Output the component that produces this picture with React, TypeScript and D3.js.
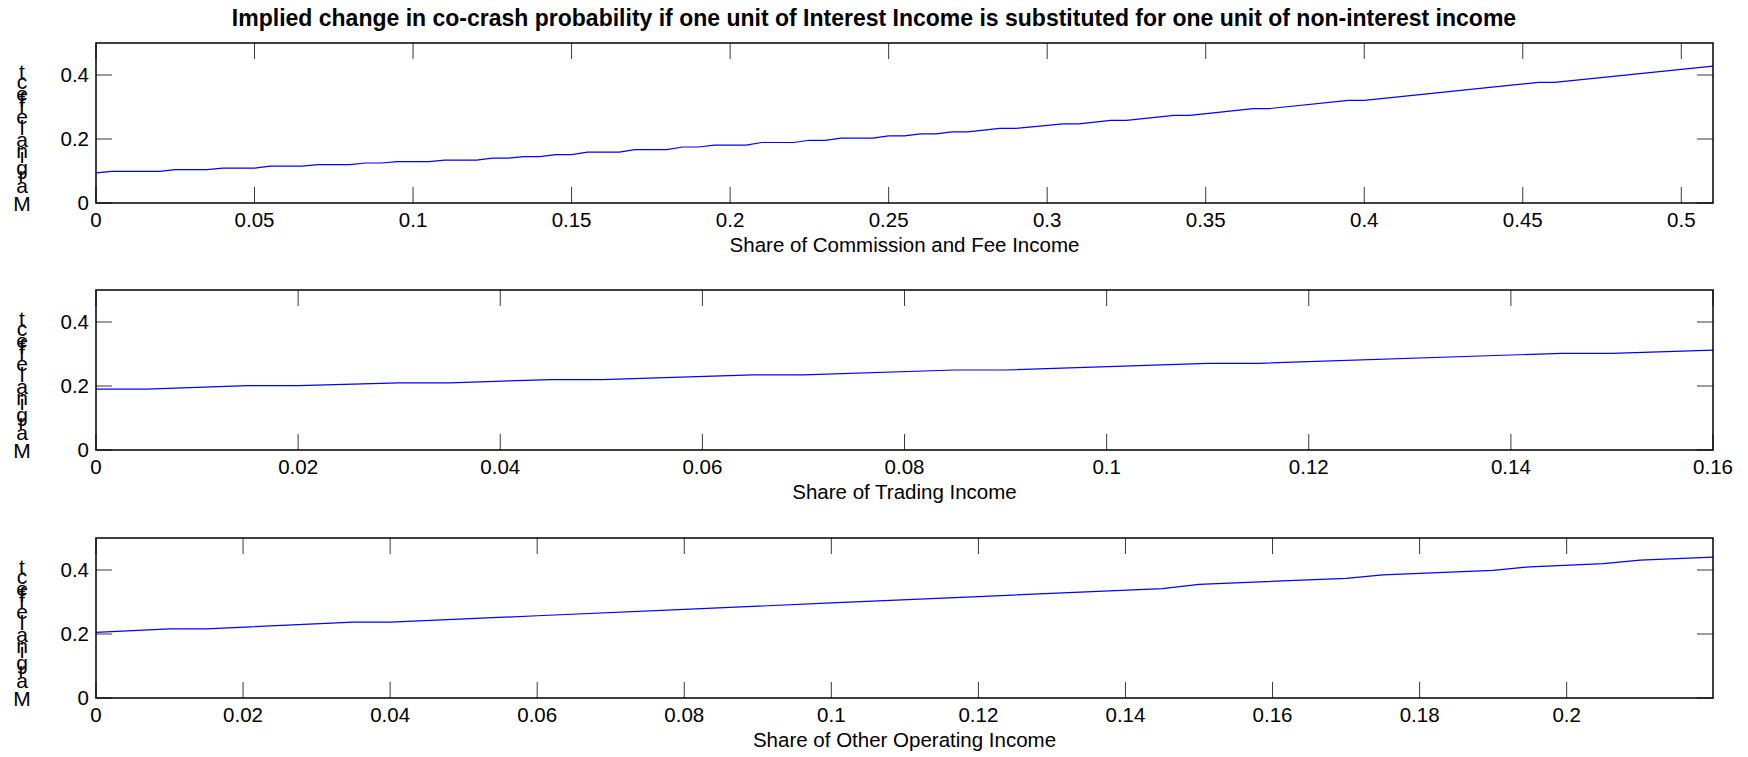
import React from 'react';
import * as d3 from 'd3';

// figure text
const TITLE = 'Implied change in co-crash probability if one unit of Interest Income is substituted for one unit of non-interest income';
const Y_LABEL = 'Marginal effect';

// panel 1: commission and fee income
const commissionX = [0, 0.005, 0.02, 0.025, 0.035, 0.04, 0.05, 0.055, 0.065, 0.07, 0.08, 0.085, 0.09, 0.095, 0.105, 0.11, 0.12, 0.125, 0.13, 0.135, 0.14, 0.145, 0.15, 0.155, 0.165, 0.17, 0.18, 0.185, 0.19, 0.195, 0.205, 0.21, 0.22, 0.225, 0.23, 0.235, 0.245, 0.25, 0.255, 0.26, 0.265, 0.27, 0.275, 0.285, 0.29, 0.305, 0.31, 0.32, 0.325, 0.34, 0.345, 0.365, 0.37, 0.395, 0.4, 0.455, 0.46, 0.51];
const commissionY = [0.094, 0.099, 0.099, 0.104, 0.104, 0.109, 0.109, 0.115, 0.115, 0.120, 0.120, 0.125, 0.125, 0.129, 0.129, 0.134, 0.134, 0.140, 0.140, 0.145, 0.145, 0.151, 0.151, 0.159, 0.159, 0.167, 0.167, 0.175, 0.175, 0.181, 0.181, 0.189, 0.189, 0.196, 0.196, 0.203, 0.203, 0.210, 0.210, 0.216, 0.216, 0.222, 0.222, 0.233, 0.233, 0.247, 0.247, 0.258, 0.258, 0.274, 0.274, 0.295, 0.295, 0.321, 0.321, 0.377, 0.377, 0.428];

// panel 2: trading income
const tradingX = [0, 0.005, 0.015, 0.02, 0.03, 0.035, 0.045, 0.05, 0.065, 0.07, 0.085, 0.09, 0.11, 0.115, 0.145, 0.15, 0.16];
const tradingY = [0.19, 0.19, 0.201, 0.201, 0.21, 0.21, 0.22, 0.22, 0.235, 0.235, 0.25, 0.25, 0.271, 0.271, 0.302, 0.302, 0.312];

// panel 3: other operating income
const otherX = [0, 0.01, 0.015, 0.035, 0.04, 0.06, 0.08, 0.1, 0.12, 0.145, 0.15, 0.17, 0.175, 0.19, 0.195, 0.205, 0.21, 0.2199];
const otherY = [0.205, 0.216, 0.216, 0.237, 0.237, 0.257, 0.277, 0.297, 0.317, 0.342, 0.355, 0.374, 0.385, 0.399, 0.41, 0.42, 0.431, 0.44];

const xLabels = ['Share of Commission and Fee Income', 'Share of Trading Income', 'Share of Other Operating Income'];
const yMax = 0.5;

const W = 1748, H = 757;
const LEFT = 96, RIGHT = 1713;
const PANEL_TOPS = [43, 290, 538];
const PANEL_H = 160;
const TICK_LEN = 16;
const FONT = '"Liberation Sans", Arial, Helvetica, sans-serif';
const FS = 20.5;
const YL_FS = 21;

const fmt = (d: number) => String(+d.toFixed(4));

function charWidths(text: string, size: number) {
  const ctx = document.createElement('canvas').getContext('2d');
  if (!ctx) return text.split('').map(() => size * 0.55);
  ctx.font = `${size}px "Liberation Sans"`;
  return text.split('').map((c) => ctx.measureText(c).width);
}

function Panel({ top, xs, ys, label }: { top: number; xs: number[]; ys: number[]; label: string }) {
  const bottom = top + PANEL_H;
  const x = d3.scaleLinear().domain([0, d3.max(xs) as number]).range([LEFT, RIGHT]);
  const y = d3.scaleLinear().domain([0, yMax]).range([bottom, top]);
  const xt = x.ticks(10);
  const yt = y.ticks(3);
  const line = d3.line<number>().x((_, i) => x(xs[i])).y((d) => y(d));

  // stacked upright letters, as in the original figure
  const widths = charWidths(Y_LABEL, YL_FS);
  let cum = 0;
  const letters = Y_LABEL.split('').map((c, i) => {
    const pos = cum;
    cum += widths[i];
    return { c, pos };
  });

  return (
    <g>
      <path d={line(ys) || ''} fill="none" stroke="#0000ff" strokeWidth={1.2} />
      {xt.map((t) => (
        <g key={'x' + t}>
          <line x1={x(t)} x2={x(t)} y1={bottom} y2={bottom - TICK_LEN} stroke="#3a3a3a" strokeWidth={1} />
          <line x1={x(t)} x2={x(t)} y1={top} y2={top + TICK_LEN} stroke="#3a3a3a" strokeWidth={1} />
          <text x={x(t)} y={bottom + 24} textAnchor="middle" fontSize={FS} fontFamily={FONT} fill="#000">{fmt(t)}</text>
        </g>
      ))}
      {yt.map((t) => (
        <g key={'y' + t}>
          <line x1={LEFT} x2={LEFT + TICK_LEN} y1={y(t)} y2={y(t)} stroke="#3a3a3a" strokeWidth={1} />
          <line x1={RIGHT} x2={RIGHT - TICK_LEN} y1={y(t)} y2={y(t)} stroke="#3a3a3a" strokeWidth={1} />
          <text x={LEFT - 7} y={y(t)} dy="0.36em" textAnchor="end" fontSize={FS} fontFamily={FONT} fill="#000">{fmt(t)}</text>
        </g>
      ))}
      <rect x={LEFT} y={top} width={RIGHT - LEFT} height={PANEL_H} fill="none" stroke="#000" strokeWidth={1.5} />
      <text x={(LEFT + RIGHT) / 2} y={bottom + 49} textAnchor="middle" fontSize={FS} fontFamily={FONT} fill="#000">{label}</text>
      {letters.map((l, i) => (
        <text key={i} x={22} y={bottom + 7.7 - l.pos} textAnchor="middle" fontSize={YL_FS} fontFamily={FONT} fill="#000">{l.c}</text>
      ))}
    </g>
  );
}

export default function App() {
  const data = [
    { xs: commissionX, ys: commissionY },
    { xs: tradingX, ys: tradingY },
    { xs: otherX, ys: otherY },
  ];
  return (
    <svg width={W} height={H} style={{ position: 'absolute', left: 0, top: 0, background: '#fff' }}>
      <rect width={W} height={H} fill="#fff" />
      <text x={W / 2} y={26} textAnchor="middle" fontSize={23} fontWeight="bold" fontFamily={FONT} fill="#000">{TITLE}</text>
      {data.map((d, i) => (
        <Panel key={i} top={PANEL_TOPS[i]} xs={d.xs} ys={d.ys} label={xLabels[i]} />
      ))}
    </svg>
  );
}
